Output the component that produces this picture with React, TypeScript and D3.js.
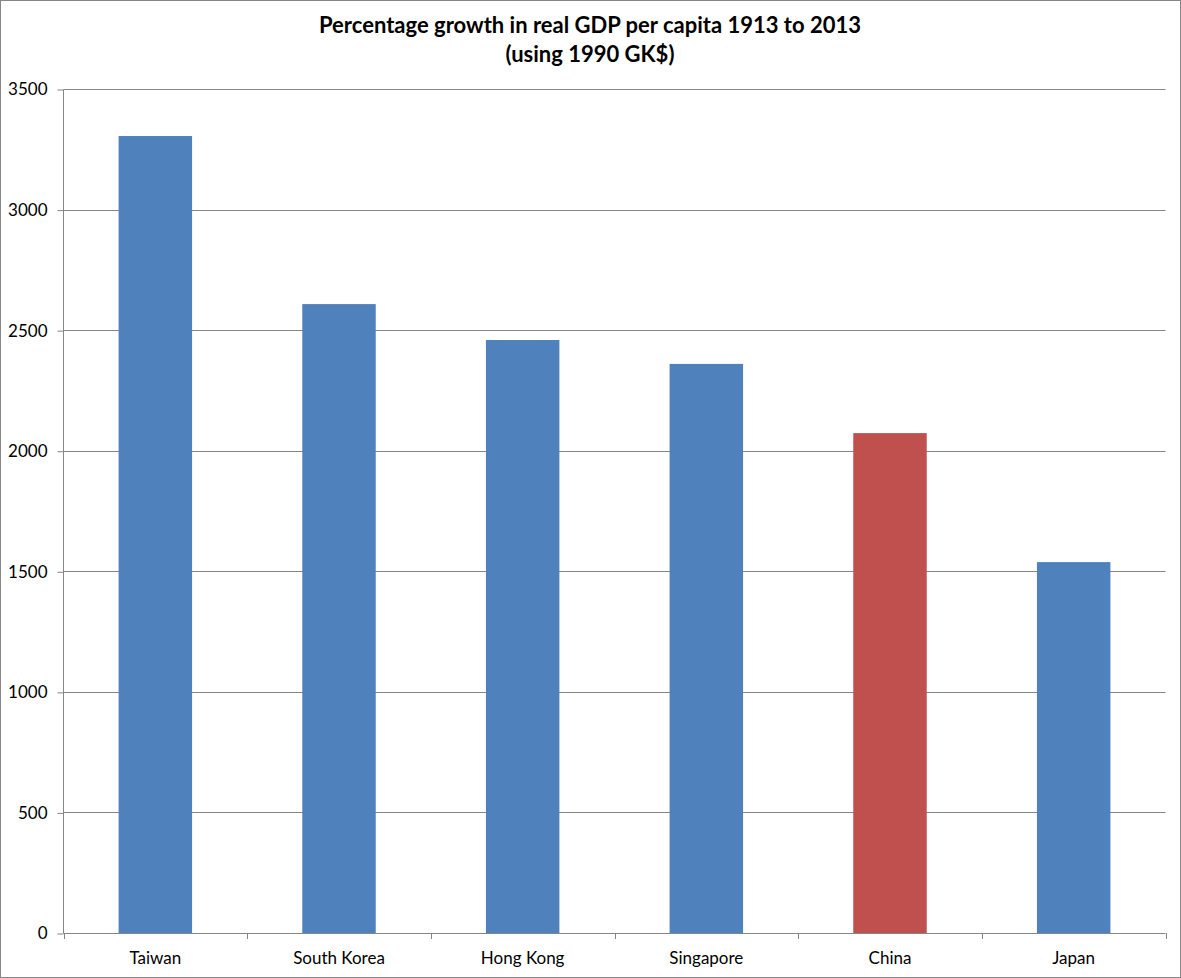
import React, { useEffect, useRef } from 'react';
import * as d3 from 'd3';

const countries = ['Taiwan', 'South Korea', 'Hong Kong', 'Singapore', 'China', 'Japan'];
const growth = [3305, 2608, 2459, 2360, 2073, 1538];
const yTicks = [0, 500, 1000, 1500, 2000, 2500, 3000, 3500];
const titleLines = ['Percentage growth in real GDP per capita 1913 to 2013', '(using 1990 GK$)'];

const App = () => {
  const ref = useRef(null);

  useEffect(() => {
    document.body.style.margin = '0';
    const width = 1181;
    const height = 978;
    const left = 63.5;
    const right = 1165.5;
    const top = 89;
    const bottom = 933;
    const font = 'Lato, "Open Sans", sans-serif';
    const gridColor = '#868686';

    const svg = d3.select(ref.current)
      .attr('width', width)
      .attr('height', height);
    svg.selectAll('*').remove();

    svg.append('rect')
      .attr('x', 0.5).attr('y', 0.5)
      .attr('width', width - 1).attr('height', height - 1)
      .attr('fill', '#fff')
      .attr('stroke', gridColor);

    const x = d3.scaleBand().domain(countries).range([left, right]).paddingInner(0.6).paddingOuter(0.3);
    const y = d3.scaleLinear().domain([0, 3500]).range([bottom, top]);

    // gridlines
    svg.append('g').selectAll('line')
      .data(yTicks.filter(d => d > 0))
      .enter().append('line')
      .attr('x1', left).attr('x2', right)
      .attr('y1', d => Math.round(y(d)) + 0.5).attr('y2', d => Math.round(y(d)) + 0.5)
      .attr('stroke', gridColor);

    // bars
    svg.append('g').selectAll('rect')
      .data(countries)
      .enter().append('rect')
      .attr('x', d => x(d))
      .attr('width', x.bandwidth())
      .attr('y', (d, i) => y(growth[i]))
      .attr('height', (d, i) => bottom - y(growth[i]))
      .attr('fill', d => d === 'China' ? '#C0504D' : '#4F81BD');

    // y axis
    const yAxis = svg.append('g')
      .attr('transform', `translate(${left},0.5)`)
      .call(d3.axisLeft(y).tickValues(yTicks).tickSize(6).tickPadding(10).tickFormat(d3.format('d')));
    yAxis.select('.domain').attr('stroke', gridColor).attr('d', `M0,${top}V${bottom}`);
    yAxis.selectAll('.tick line').attr('stroke', gridColor);
    yAxis.selectAll('.tick text')
      .attr('fill', '#000')
      .style('font-family', font)
      .style('font-size', '17px');

    // x axis
    const step = (right - left) / countries.length;
    const xg = svg.append('g');
    xg.append('line')
      .attr('x1', left).attr('x2', right)
      .attr('y1', bottom + 0.5).attr('y2', bottom + 0.5)
      .attr('stroke', gridColor);
    xg.selectAll('.xtick')
      .data(d3.range(countries.length + 1))
      .enter().append('line')
      .attr('x1', i => Math.round(left + i * step) + 0.5)
      .attr('x2', i => Math.round(left + i * step) + 0.5)
      .attr('y1', bottom).attr('y2', bottom + 6)
      .attr('stroke', gridColor);
    xg.selectAll('text')
      .data(countries)
      .enter().append('text')
      .attr('x', d => x(d) + x.bandwidth() / 2)
      .attr('y', 964)
      .attr('text-anchor', 'middle')
      .style('font-family', font)
      .style('font-size', '17px')
      .text(d => d);

    // title
    svg.append('g').selectAll('text')
      .data(titleLines)
      .enter().append('text')
      .attr('x', 590)
      .attr('y', (d, i) => 33 + i * 29)
      .attr('text-anchor', 'middle')
      .style('font-family', font)
      .style('font-weight', 'bold')
      .style('font-size', '22px')
      .text(d => d);
  }, []);

  return <svg ref={ref} style={{ display: 'block' }} />;
};

export default App;
